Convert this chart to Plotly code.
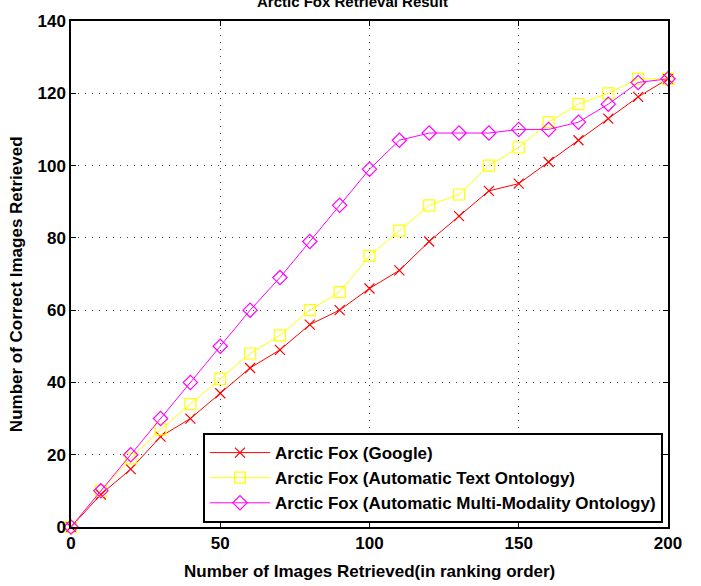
import plotly.graph_objects as go

x_vals = [0, 10, 20, 30, 40, 50, 60, 70, 80, 90, 100, 110, 120, 130, 140, 150, 160, 170, 180, 190, 200]
google = [0, 9, 16, 25, 30, 37, 44, 49, 56, 60, 66, 71, 79, 86, 93, 95, 101, 107, 113, 119, 124]
text_onto = [0, 10, 19, 27, 34, 41, 48, 53, 60, 65, 75, 82, 89, 92, 100, 105, 112, 117, 120, 124, 124]
multi_onto = [0, 10, 20, 30, 40, 50, 60, 69, 79, 89, 99, 107, 109, 109, 109, 110, 110, 112, 117, 123, 124]
names = ["Arctic Fox (Google)", "Arctic Fox (Automatic Text Ontology)",
         "Arctic Fox (Automatic Multi-Modality Ontology)"]
x_ticks = [0, 50, 100, 150, 200]
y_ticks = [0, 20, 40, 60, 80, 100, 120, 140]

FONT = "Arial, Liberation Sans, sans-serif"

fig = go.Figure()
fig.add_trace(go.Scatter(x=x_vals, y=google, name=names[0], mode="lines+markers",
                         line=dict(color="#ff0000", width=1),
                         marker=dict(symbol="x-thin-open", size=10,
                                     line=dict(color="#ff0000", width=1.2)),
                         cliponaxis=False))
fig.add_trace(go.Scatter(x=x_vals, y=text_onto, name=names[1], mode="lines+markers",
                         line=dict(color="#ffff00", width=1),
                         marker=dict(symbol="square-open", size=11, color="#ffff00",
                                     line=dict(color="#ffff00", width=1.2)),
                         cliponaxis=False))
fig.add_trace(go.Scatter(x=x_vals, y=multi_onto, name=names[2], mode="lines+markers",
                         line=dict(color="#ff00ff", width=1),
                         marker=dict(symbol="diamond-open", size=11, color="#ff00ff",
                                     line=dict(color="#ff00ff", width=1.2)),
                         cliponaxis=False))

axis_common = dict(showline=True, linecolor="black", linewidth=1.5, mirror="ticks",
                   ticks="inside", ticklen=5, tickwidth=1, tickcolor="black",
                   showgrid=True, gridcolor="#444444", griddash="1px,6px", gridwidth=1,
                   zeroline=False,
                   tickfont=dict(family=FONT, size=17, color="black", weight="bold"))

fig.update_xaxes(range=[0, 200], tickvals=x_ticks, ticktext=[str(v) for v in x_ticks],
                 **axis_common)
fig.update_yaxes(range=[0, 140], tickvals=y_ticks, ticktext=[str(v) for v in y_ticks],
                 **axis_common)

fig.update_layout(
    width=701, height=586,
    margin=dict(l=71, r=33, t=17, b=59),
    paper_bgcolor="white", plot_bgcolor="white",
    font=dict(family=FONT, color="black"),
    showlegend=True,
    legend=dict(x=0.9916, y=0.0078, xanchor="right", yanchor="bottom",
                bgcolor="white", bordercolor="black", borderwidth=2,
                font=dict(family=FONT, size=17, color="black", weight="bold"),
                itemwidth=60, tracegroupgap=0),
    annotations=[
        dict(text="Number of Images Retrieved(in ranking order)", xref="paper", yref="paper",
             x=0.5, y=-0.0882, xanchor="center", yanchor="middle", showarrow=False,
             font=dict(family=FONT, size=17, color="black", weight="bold")),
        dict(text="Number of Correct Images Retrieved", xref="paper", yref="paper",
             x=-0.0921, y=0.48, xanchor="center", yanchor="middle", showarrow=False,
             textangle=-90,
             font=dict(family=FONT, size=17, color="black", weight="bold")),
        dict(text="Arctic Fox Retrieval Result", xref="paper", yref="paper",
             x=(352 - 71) / 597, y=1.0176, xanchor="center", yanchor="bottom", showarrow=False,
             font=dict(family=FONT, size=15, color="black", weight="bold")),
    ],
)

fig.write_html("out.html", config={"displayModeBar": False},
               post_script="document.body.style.margin='0px';document.body.style.overflow='hidden';")
